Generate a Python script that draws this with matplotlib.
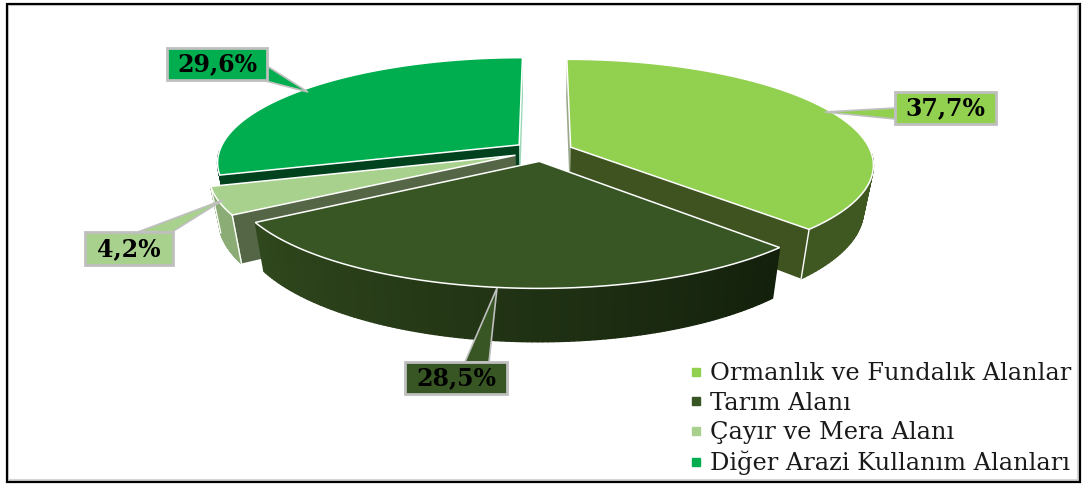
import numpy as np
import matplotlib
matplotlib.use("Agg")
import matplotlib.pyplot as plt
from matplotlib.patches import Polygon, Rectangle
from matplotlib.collections import PolyCollection
from matplotlib.lines import Line2D
from matplotlib.colors import to_rgb

categories = ["Ormanlık ve Fundalık Alanlar", "Tarım Alanı", "Çayır ve Mera Alanı", "Diğer Arazi Kullanım Alanları"]
shares = [37.7, 28.5, 4.2, 29.6]

top_colors = ["#92D050", "#375623", "#A9D18E", "#00AD4F"]
start_cut_colors = ["#9AA88A", "#2A3F1A", "#546645", "#00421E"]
end_cut_colors = ["#3F5320", "#2A3F1A", "#546645", "#9AD8B5"]
rim_left = ["#3F5720", "#30481D", "#8BAC75", "#00421E"]
rim_right = ["#3F5720", "#13200C", "#8BAC75", "#00421E"]
label_boxes = [(895, 92, 996, 124), (405, 362, 507, 394), (85, 232, 173, 265), (167, 48, 267, 80)]
label_tips = [(825, 112), (497, 288), (223, 200), (308, 92)]
label_bases = [((895, 108), (895, 119)), ((465, 362), (489, 362)), ((138, 232), (172, 232)), ((267, 66), (262, 80))]

CX, CY, RX, RY, PERSP, DEPTH, SHRINK, EXPLODE = 543, 151, 300, 103, 0.16, 44, 0.03, 0.1


def project(theta, radius, drop, centre):
    u = centre[0] + radius * np.sin(theta)
    v = centre[1] + radius * np.cos(theta)
    k = 1 / (1 + PERSP * v)
    return (CX + RX * u * k * (1 - SHRINK * drop), CY - RY * v * k + DEPTH * k * drop)


fig = plt.figure(figsize=(10.84, 4.84), dpi=100)
ax = fig.add_axes([0, 0, 1, 1])
ax.set_xlim(0, 1084)
ax.set_ylim(484, 0)
ax.axis("off")

ax.add_patch(Rectangle((8, 5), 1070, 475, fc="none", ec="#D4D4D4", lw=1.5))
ax.add_patch(Rectangle((6.5, 3.5), 1073, 478, fc="none", ec="black", lw=1.6))

edges = np.concatenate([[0], np.cumsum(shares)]) / np.sum(shares) * 2 * np.pi

for i in [3, 0, 2, 1]:
    a0, a1 = edges[i], edges[i + 1]
    mid = (a0 + a1) / 2
    centre = (EXPLODE * np.sin(mid), EXPLODE * np.cos(mid))
    thetas = np.linspace(a0, a1, 121)
    top = [project(t, 1, 0, centre) for t in thetas]
    low = [project(t, 1, 1, centre) for t in thetas]
    apex = project(0, 0, 0, centre)
    apex_low = project(0, 0, 1, centre)

    # cut faces
    ax.add_patch(Polygon([apex, top[0], low[0], apex_low], fc=start_cut_colors[i], ec="none"))
    ax.add_patch(Polygon([apex, top[-1], low[-1], apex_low], fc=end_cut_colors[i], ec="none"))

    # outer rim, shaded along the arc; only the part that faces the viewer
    c0, c1 = np.array(to_rgb(rim_right[i])), np.array(to_rgb(rim_left[i]))
    quads, cols = [], []
    for j in range(len(thetas) - 1):
        if np.cos(thetas[j]) < -0.05 and np.cos(thetas[j + 1]) < -0.05:
            quads.append([top[j], top[j + 1], low[j + 1], low[j]])
            cols.append(tuple(c0 + (c1 - c0) * j / (len(thetas) - 2)))
    ax.add_collection(PolyCollection(quads, facecolors=cols, edgecolors=cols, linewidths=1.0))

    # corner highlight lines
    for t_pt, l_pt in [(top[0], low[0]), (top[-1], low[-1])]:
        if (i == 0 and t_pt == top[-1]) or i == 2:
            ax.add_line(Line2D([t_pt[0], l_pt[0]], [t_pt[1], l_pt[1]], color="white", lw=1.0))

    ax.add_patch(Polygon([apex] + top, fc=top_colors[i], ec="white", lw=1.1, joinstyle="miter"))

# callout labels
for i, share in enumerate(shares):
    x0, y0, x1, y1 = label_boxes[i]
    ax.add_patch(Polygon([label_bases[i][0], label_tips[i], label_bases[i][1]],
                         fc=top_colors[i], ec="#BFBFBF", lw=1.2, zorder=5))
    ax.add_patch(Rectangle((x0, y0), x1 - x0, y1 - y0, fc=top_colors[i], ec="#BFBFBF", lw=2, zorder=6))
    ax.text((x0 + x1) / 2, (y0 + y1) / 2 + 0.5, f"{share:.1f}%".replace(".", ","),
            family="DejaVu Serif", weight="bold", fontsize=17, color="black",
            ha="center", va="center", zorder=7)

handles = [Line2D([], [], ls="none", marker="s", ms=5.6, mfc=c, mec=c) for c in top_colors]
ax.legend(handles, categories, loc="upper left", bbox_to_anchor=(684, 362), bbox_transform=ax.transData,
          frameon=False, prop={"family": "DejaVu Serif", "size": 17.4}, labelcolor="#1A1A1A",
          labelspacing=0.27, handlelength=1.0, handletextpad=0.08, borderpad=0, borderaxespad=0)

fig.savefig("out.png", dpi=100)
